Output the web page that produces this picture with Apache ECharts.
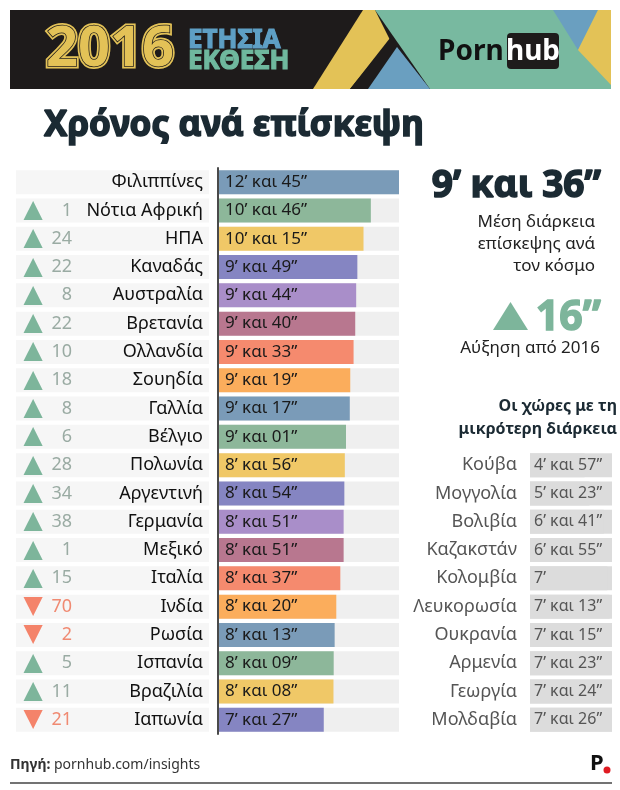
<!DOCTYPE html>
<html><head><meta charset="utf-8">
<script src="https://cdn.jsdelivr.net/npm/echarts@6/dist/echarts.min.js"></script>
<style>html,body{margin:0;padding:0;background:#fff}#c{width:620px;height:790px}</style>
</head><body><div id="c"></div>
<script>
// ---- data ----
const categories = ['Φιλιππίνες','Νότια Αφρική','ΗΠΑ','Καναδάς','Αυστραλία','Βρετανία','Ολλανδία','Σουηδία','Γαλλία','Βέλγιο','Πολωνία','Αργεντινή','Γερμανία','Μεξικό','Ιταλία','Ινδία','Ρωσία','Ισπανία','Βραζιλία','Ιαπωνία'];
const durations = [765,646,615,589,584,580,573,559,557,541,536,534,531,531,517,500,493,489,488,447]; // seconds
const rankChanges = [null,1,24,22,8,22,10,18,8,6,28,34,38,1,15,-70,-2,5,11,-21];
const shortestNames = ['Κούβα','Μογγολία','Βολιβία','Καζακστάν','Κολομβία','Λευκορωσία','Ουκρανία','Αρμενία','Γεωργία','Μολδαβία'];
const shortestDurations = [297,323,401,415,420,433,435,443,444,446]; // seconds
const worldAverage = 576; // 9' 36"
const increaseSeconds = 16;

const palette = ['#7a9bb8','#8db79a','#f0c867','#8585c2','#a98ec9','#b8778f','#f58a6e','#fbad5c'];
const FONT = '"Noto Sans", "DejaVu Sans", sans-serif';

function fmt(sec){
  const m = Math.floor(sec/60), s = sec%60;
  if (s === 0) return m + '’';
  return m + '’ και ' + String(s).padStart(2,'0') + '”';
}

const chart = echarts.init(document.getElementById('c'), null, {renderer:'canvas'});

const TOP = 168, ROWH = 28.3, N = categories.length;

const option = {
  backgroundColor:'#ffffff',
  animation:false,
  grid:[
    {left:16, width:193, top:TOP, height:ROWH*N},
    {left:218, width:181, top:TOP, height:ROWH*N},
    {left:530, width:82, top:TOP+ROWH*10, height:ROWH*10}
  ],
  xAxis:[
    {gridIndex:0, type:'value', min:0, max:1, show:false},
    {gridIndex:1, type:'value', min:0, max:'dataMax', show:false},
    {gridIndex:2, type:'value', min:0, max:'dataMax', show:false}
  ],
  yAxis:[
    {gridIndex:0, type:'category', data:categories, inverse:true, show:false},
    {gridIndex:1, type:'category', data:categories, inverse:true, z:5,
      axisLine:{show:true, lineStyle:{color:'#4a4a4a', width:2}}, axisTick:{show:false}, axisLabel:{show:false}},
    {gridIndex:2, type:'category', data:shortestNames, inverse:true,
      axisLine:{show:false}, axisTick:{show:false},
      axisLabel:{color:'#555', fontSize:18, margin:13, fontFamily:FONT}}
  ],
  series:[
    {
      type:'bar', xAxisIndex:0, yAxisIndex:0, barWidth:24, silent:true,
      data: categories.map(()=>1),
      itemStyle:{color:'#f6f6f6'},
      label:{
        show:true, position:'insideLeft', distance:6,
        formatter:(p)=>{
          const c = rankChanges[p.dataIndex];
          if (c === null) return '{t| }{n| }{s|' + p.name + '}';
          const up = c > 0;
          return (up ? '{tu|▲}{nu|' : '{td|▼}{nd|') + Math.abs(c) + '}{s|' + p.name + '}';
        },
        rich:{
          t:{width:22}, n:{width:28},
          tu:{width:22, align:'center', color:'#7db59b', fontSize:25, fontFamily:'"DejaVu Sans"'},
          td:{width:22, align:'center', color:'#f4836a', fontSize:25, fontFamily:'"DejaVu Sans"'},
          nu:{width:28, align:'right', color:'#9aaba3', fontSize:18, fontFamily:FONT},
          nd:{width:28, align:'right', color:'#f08a72', fontSize:18, fontFamily:FONT},
          s:{width:131, align:'right', color:'#111', fontSize:18, fontFamily:FONT}
        }
      }
    },
    {
      type:'bar', xAxisIndex:1, yAxisIndex:1, barWidth:24, silent:true,
      data: durations.map((v,i)=>({value:v, itemStyle:{color:palette[i%palette.length]}})),
      showBackground:true, backgroundStyle:{color:'#efefef'},
      label:{show:true, position:'insideLeft', distance:7, color:'#1a1a1a', fontSize:17, fontFamily:FONT,
        formatter:(p)=>fmt(p.value)}
    },
    {
      type:'bar', xAxisIndex:2, yAxisIndex:2, barWidth:24, silent:true,
      data: shortestDurations,
      itemStyle:{color:'#dcdcdc'},
      showBackground:true, backgroundStyle:{color:'#dcdcdc'},
      label:{show:true, position:'insideLeft', distance:4, color:'#555', fontSize:16, fontFamily:FONT,
        formatter:(p)=>fmt(p.value)}
    }
  ],
  graphic:[
    // header band
    {type:'rect', shape:{x:10,y:10,width:601,height:79}, style:{fill:'#1e1b1b'}},
    {type:'polygon', shape:{points:[[375,10],[611,10],[611,89],[430,89]]}, style:{fill:'#78b9a0'}},
    {type:'polygon', shape:{points:[[363,10],[375,10],[390,40],[350,89],[313,89]]}, style:{fill:'#e3c257'}},
    {type:'polygon', shape:{points:[[350,89],[368,89],[397,47],[390,38]]}, style:{fill:'#1e1b1b'}},
    {type:'polygon', shape:{points:[[368,89],[430,89],[397,47]]}, style:{fill:'#6a9fc0'}},
    {type:'polygon', shape:{points:[[553,10],[598,10],[578,50]]}, style:{fill:'#6a9fc0'}},
    {type:'polygon', shape:{points:[[598,10],[611,10],[611,85],[578,50]]}, style:{fill:'#e3c257'}},
    {type:'text', style:{text:'2016', x:46, y:50, font:'normal bold 56px "Noto Sans"', fill:'#e3c257', stroke:'#e3c257', lineWidth:5, textVerticalAlign:'middle'}},
    {type:'text', style:{text:'2016', x:46, y:50, font:'normal bold 56px "Noto Sans"', fill:'#e3c257', stroke:'#1e1b1b', lineWidth:1.5, textVerticalAlign:'middle'}},
    {type:'text', style:{text:'ΕΤΗΣΙΑ', x:188, y:41, font:'normal bold 26px "Noto Sans"', fill:'#5e9fc4', stroke:'#5e9fc4', lineWidth:1.2, textVerticalAlign:'middle'}},
    {type:'text', style:{text:'ΕΚΘΕΣΗ', x:188, y:62, font:'normal bold 26px "Noto Sans"', fill:'#6fb89e', stroke:'#6fb89e', lineWidth:1.2, textVerticalAlign:'middle'}},
    {type:'text', style:{text:'Porn', x:438, y:52, font:'normal bold 28px "Noto Sans"', fill:'#111', textVerticalAlign:'middle'}},
    {type:'rect', shape:{x:507,y:33,width:52,height:36,r:4}, style:{fill:'#1e1b1b'}},
    {type:'text', style:{text:'hub', x:533, y:52, font:'normal bold 28px "Noto Sans"', fill:'#fff', textAlign:'center', textVerticalAlign:'middle'}},
    // title
    {type:'text', style:{text:'Χρόνος ανά επίσκεψη', x:44, y:126, font:'normal bold 35px "Noto Sans"', fill:'#1b2a33', stroke:'#1b2a33', lineWidth:1.6, textVerticalAlign:'middle'}},
    // right panel
    {type:'text', style:{text:fmt(worldAverage), x:601, y:186, font:'normal bold 37px "Noto Sans"', fill:'#1b2a33', stroke:'#1b2a33', lineWidth:1.6, textAlign:'right', textVerticalAlign:'middle'}},
    {type:'text', style:{text:'Μέση διάρκεια', x:595, y:222, font:'17px "Noto Sans"', fill:'#222', textAlign:'right', textVerticalAlign:'middle'}},
    {type:'text', style:{text:'επίσκεψης ανά', x:595, y:244, font:'17px "Noto Sans"', fill:'#222', textAlign:'right', textVerticalAlign:'middle'}},
    {type:'text', style:{text:'τον κόσμο', x:595, y:266, font:'17px "Noto Sans"', fill:'#222', textAlign:'right', textVerticalAlign:'middle'}},
    {type:'polygon', shape:{points:[[493,330],[528,330],[510.5,302]]}, style:{fill:'#7db59b'}},
    {type:'text', style:{text:increaseSeconds+'”', x:601, y:318, font:'normal bold 41px "Noto Sans"', fill:'#7db59b', stroke:'#7db59b', lineWidth:1.4, textAlign:'right', textVerticalAlign:'middle'}},
    {type:'text', style:{text:'Αύξηση από 2016', x:600, y:348, font:'17px "Noto Sans"', fill:'#222', textAlign:'right', textVerticalAlign:'middle'}},
    {type:'text', style:{text:'Οι χώρες με τη', x:617, y:406, font:'normal bold 16px "Noto Sans"', fill:'#1b2a33', textAlign:'right', textVerticalAlign:'middle'}},
    {type:'text', style:{text:'μικρότερη διάρκεια', x:617, y:429, font:'normal bold 16px "Noto Sans"', fill:'#1b2a33', textAlign:'right', textVerticalAlign:'middle'}},
    // footer
    {type:'text', style:{text:'{a|Πηγή:} pornhub.com/insights', x:10, y:765, font:'14px "Noto Sans"', fill:'#333', textVerticalAlign:'middle',
      rich:{a:{fontWeight:'bold', fontSize:14, fontFamily:'Noto Sans', fill:'#333'}}}},
    {type:'text', style:{text:'P', x:590, y:764, font:'normal bold 22px "Noto Sans"', fill:'#111', textVerticalAlign:'middle'}},
    {type:'circle', shape:{cx:607, cy:770, r:3.5}, style:{fill:'#e01b22'}},
    {type:'line', shape:{x1:10,y1:783,x2:612,y2:783}, style:{stroke:'#444', lineWidth:1.5}}
  ]
};
chart.setOption(option);
</script></body></html>
